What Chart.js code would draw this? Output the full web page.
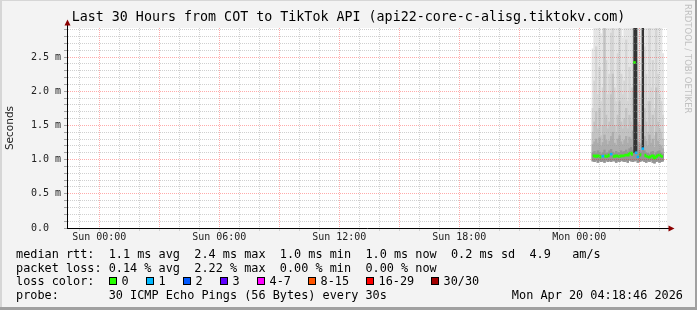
<!DOCTYPE html>
<html>
<head>
<meta charset="utf-8">
<title>Last 30 Hours from COT to TikTok API</title>
<script src="https://cdn.jsdelivr.net/npm/chart.js@4"></script>
<style>
    html, body { margin: 0; padding: 0; background: #f3f3f3; }
    #wrap { width: 697px; height: 310px; }
</style>
</head>
<body>
<div id="wrap"><canvas id="pingChart" width="697" height="310"></canvas></div>
<script>
// Time axis, in hours since Sat 00:00
const xMin = 46.385;   // Sat 22:23
const xMax = 76.385;   // Mon 04:23
const xTickHours = [48, 54, 60, 66, 72];
const xTickLabels = ['Sun 00:00', 'Sun 06:00', 'Sun 12:00', 'Sun 18:00', 'Mon 00:00'];

// Value axis, ms
const yMax = 2.924;
const yTickLabels = ['0.0', '0.5 m', '1.0 m', '1.5 m', '2.0 m', '2.5 m'];

// One sample every 5 minutes, first one at Mon 00:40
const firstSample = 72.677;
const sampleStep = 1 / 12;

// Ping smoke (ms), from the lowest ping up to the highest
const pingMin = [0.98, 0.97, 0.99, 0.96, 0.98, 0.97, 0.98, 0.96, 0.99, 0.97, 0.98, 0.97, 0.99, 0.98, 0.96,
    0.98, 0.97, 0.99, 0.98, 0.97, 0.98, 0.96, 0.99, 0.98, 0.97, 0.98, 0.99, 0.96, 0.97, 0.98,
    0.99, 0.97, 0.96, 0.98, 0.97, 0.99, 0.96, 0.95, 0.97, 0.98, 0.96, 0.97, 0.98];
const p55 = [1.10, 1.12, 1.09, 1.13, 1.11, 1.08, 1.10, 1.14, 1.09, 1.10, 1.13, 1.15, 1.11, 1.09, 1.12,
    1.10, 1.10, 1.13, 1.11, 1.12, 1.14, 1.11, 1.16, 1.18, 1.14, 1.25, 1.22, 1.10, 1.14, 1.11,
    1.24, 1.13, 1.10, 1.09, 1.08, 1.11, 1.12, 1.07, 1.10, 1.12, 1.13, 1.10, 1.08];
const p60 = [1.22, 1.26, 1.30, 1.24, 1.32, 1.20, 1.25, 1.36, 1.28, 1.22, 1.27, 1.34, 1.40, 1.24, 1.21,
    1.30, 1.35, 1.26, 1.22, 1.28, 1.34, 1.24, 1.33, 1.30, 1.42, 1.50, 1.45, 1.26, 1.24, 1.22,
    1.50, 1.34, 1.27, 1.20, 1.36, 1.24, 1.30, 1.18, 1.40, 1.27, 1.22, 1.20, 1.16];
const p75 = [1.40, 1.55, 1.70, 1.45, 1.75, 1.35, 1.50, 3.50, 1.65, 1.45, 1.55, 1.95, 2.25, 1.50, 1.40,
    1.65, 1.85, 1.55, 1.45, 1.60, 1.75, 1.45, 1.65, 1.55, 2.05, 2.20, 2.00, 1.55, 1.50, 1.45,
    2.10, 1.75, 1.55, 1.40, 1.85, 1.50, 1.65, 1.35, 2.05, 1.55, 1.45, 1.40, 1.30];
const p90 = [1.75, 2.15, 2.65, 1.95, 2.35, 1.85, 2.05, 3.50, 2.45, 1.95, 2.25, 2.85, 3.50, 2.05, 1.85,
    2.55, 3.50, 2.25, 1.95, 2.15, 2.75, 1.85, 2.35, 2.05, 3.50, 3.50, 3.50, 2.45, 2.15, 1.95,
    3.50, 2.65, 2.25, 1.85, 2.95, 2.05, 2.45, 1.75, 3.50, 2.25, 1.95, 1.85, 1.65];
const pingMax = [2.62, 3.50, 3.50, 3.50, 3.50, 2.84, 3.50, 3.50, 3.50, 3.50, 3.50, 3.50, 3.50, 3.50, 3.50,
    3.50, 3.50, 3.50, 2.78, 3.50, 3.50, 3.50, 3.50, 3.50, 3.50, 3.50, 3.50, 3.50, 3.50, 3.50,
    3.50, 3.50, 3.50, 3.50, 3.50, 3.50, 3.50, 3.50, 3.50, 3.50, 3.50, 2.95, 2.55];
// middle pings spread over the whole range (dark columns)
const coreLow = [null, null, null, null, null, null, null, null, null, null, null, null, null, null, null,
    null, null, null, null, null, null, null, null, null, null, 1.10, 1.12, null, null, null,
    1.17, null, null, null, null, null, null, null, null, null, null, null, null];
const coreHigh = [null, null, null, null, null, null, null, null, null, null, null, null, null, null, null,
    null, null, null, null, null, null, null, null, null, null, 3.50, 3.50, null, null, null,
    3.50, null, null, null, null, null, null, null, null, null, null, null, null];

// Median rtt (ms) and lost pings out of 30
const median = [1.05, 1.06, 1.04, 1.06, 1.05, 1.03, 1.05, 1.06, 1.04, 1.05, 1.07, 1.08, 1.05, 1.04, 1.06,
    1.05, 1.04, 1.06, 1.05, 1.06, 1.07, 1.06, 1.09, 1.10, 1.07, 2.42, 1.10, 1.04, 1.08, 1.06,
    1.16, 1.07, 1.05, 1.04, 1.03, 1.05, 1.06, 1.02, 1.04, 1.06, 1.07, 1.05, 1.04];
const loss = [0, 0, 0, 0, 0, 0, 1, 0, 0, 0, 0, 1, 0, 0, 0,
    0, 0, 0, 0, 0, 0, 0, 0, 0, 0, 0, 1, 1, 0, 0,
    1, 0, 0, 0, 0, 0, 0, 0, 0, 0, 0, 0, 0];

// Legend
const rttStats = ['1.1 ms avg', '2.4 ms max', '1.0 ms min', '1.0 ms now', '0.2 ms sd', '4.9   am/s'];
const lossStats = ['0.14 % avg', '2.22 % max', '0.00 % min', '0.00 % now'];
const lossBuckets = ['0', '1', '2', '3', '4-7', '8-15', '16-29', '30/30'];
const lossBucketMin = [0, 1, 2, 3, 4, 8, 16, 30];
const lossColors = ['#26ff00', '#00b8ff', '#0059ff', '#5e00ff', '#ff00ff', '#ff5500', '#ff0000', '#a10000'];
const probeText = '30 ICMP Echo Pings (56 Bytes) every 30s';
const stampText = 'Mon Apr 20 04:18:46 2026';

const GRID = 'rgba(150, 150, 150, 0.45)';
const MGRID = 'rgba(255, 0, 0, 0.33)';
const monoFont = '"DejaVu Sans Mono", "Liberation Mono", monospace';

function sampleTime(i) {
    return firstSample + i * sampleStep;
}

function lossColor(n) {
    let idx = 0;
    lossBucketMin.forEach((min, i) => { if (n >= min) idx = i; });
    return lossColors[idx];
}

function smokeLayer(lo, hi, color, order) {
    const data = [];
    hi.forEach((v, i) => {
        if (v != null && lo[i] != null) data.push({ x: sampleTime(i), y: [lo[i], v] });
    });
    return {
        type: 'bar',
        data: data,
        backgroundColor: color,
        borderWidth: 0,
        barPercentage: 1,
        categoryPercentage: 1,
        grouped: false,
        order: order
    };
}

// green median, only where nothing was lost
const greenMedian = median.map((v, i) => ({ x: sampleTime(i), y: loss[i] === 0 ? v : null }));

function jump(a, b) {
    return a == null || b == null || Math.abs(a - b) > 0.5;
}

function isolated(i) {
    const v = greenMedian[i].y;
    if (v == null) return false;
    const prev = i > 0 ? greenMedian[i - 1].y : null;
    const next = i < greenMedian.length - 1 ? greenMedian[i + 1].y : null;
    return jump(v, prev) && jump(v, next);
}

// Background, axis arrows and the text block under the graph
const rrdDecor = {
    id: 'rrdDecor',
    beforeDraw(chart) {
        const { ctx, chartArea: a } = chart;
        ctx.save();
        ctx.fillStyle = '#f3f3f3';
        ctx.fillRect(0, 0, chart.width, chart.height);
        ctx.fillStyle = '#ffffff';
        ctx.fillRect(a.left, a.top, a.right - a.left, a.bottom - a.top);
        ctx.restore();
    },
    afterDraw(chart) {
        const { ctx, chartArea: a } = chart;
        ctx.save();

        // axis ends + arrows
        ctx.strokeStyle = '#000';
        ctx.lineWidth = 1;
        ctx.beginPath();
        ctx.moveTo(a.left + 0.5, a.top);
        ctx.lineTo(a.left + 0.5, 24);
        ctx.moveTo(a.right, a.bottom + 0.5);
        ctx.lineTo(669, a.bottom + 0.5);
        ctx.stroke();
        ctx.fillStyle = '#8b0000';
        ctx.beginPath();
        ctx.moveTo(a.left + 0.5, 19.5);
        ctx.lineTo(a.left + 3.5, 25.5);
        ctx.lineTo(a.left - 2.5, 25.5);
        ctx.closePath();
        ctx.fill();
        ctx.beginPath();
        ctx.moveTo(674.5, a.bottom + 0.5);
        ctx.lineTo(668.5, a.bottom - 2.5);
        ctx.lineTo(668.5, a.bottom + 3.5);
        ctx.closePath();
        ctx.fill();

        // legend
        const rowY = [258, 272, 285, 299];
        ctx.font = '11.85px ' + monoFont;
        ctx.textBaseline = 'alphabetic';
        ctx.textAlign = 'left';
        ctx.fillStyle = '#000';
        const cw = ctx.measureText('0').width;
        const col = n => 16 + n * cw;

        ctx.fillText('median rtt:', 16, rowY[0]);
        ctx.fillText(rttStats.join('  '), col(13), rowY[0]);
        ctx.fillText('packet loss:', 16, rowY[1]);
        ctx.fillText(lossStats.join('  '), col(13), rowY[1]);
        ctx.fillText('loss color:', 16, rowY[2]);

        let bx = col(13);
        lossBuckets.forEach((label, i) => {
            const x = Math.round(bx);
            ctx.fillStyle = lossColors[i];
            ctx.fillRect(x, rowY[2] - 8, 8, 8);
            ctx.strokeStyle = '#000';
            ctx.strokeRect(x + 0.5, rowY[2] - 7.5, 7, 7);
            ctx.fillStyle = '#000';
            ctx.fillText(label, x + 12.5, rowY[2]);
            bx = x + 12.5 + ctx.measureText(label).width + 17;
        });

        ctx.fillText('probe:', 16, rowY[3]);
        ctx.fillText(probeText, col(13), rowY[3]);
        ctx.textAlign = 'right';
        ctx.fillText(stampText, 683, rowY[3]);

        // watermark
        ctx.save();
        ctx.translate(687.5, 4);
        ctx.rotate(Math.PI / 2);
        ctx.font = '8.5px "DejaVu Sans", sans-serif';
        ctx.fillStyle = '#c0c0c0';
        ctx.textAlign = 'left';
        ctx.textBaseline = 'middle';
        ctx.fillText('RRDTOOL / TOBI OETIKER', 0, 0);
        ctx.restore();

        // frame
        ctx.fillStyle = '#d6d6d6';
        ctx.fillRect(0, 0, chart.width, 1);
        ctx.fillRect(0, 0, 2, chart.height);
        ctx.fillStyle = '#a0a0a0';
        ctx.fillRect(0, chart.height - 3, chart.width, 3);
        ctx.fillRect(chart.width - 2, 0, 2, chart.height);

        ctx.restore();
    }
};

const chartData = {
    datasets: [
        {
            type: 'line',
            data: median.map((v, i) => ({ x: sampleTime(i), y: v, lost: loss[i] })).filter(p => p.lost > 0),
            showLine: false,
            pointStyle: 'rect',
            pointRadius: 1.8,
            pointBorderWidth: 0,
            pointBackgroundColor: ctx => lossColor(ctx.raw ? ctx.raw.lost : 0),
            order: 0
        },
        {
            type: 'line',
            data: greenMedian,
            borderColor: lossColors[0],
            borderWidth: 2,
            stepped: 'middle',
            spanGaps: false,
            pointStyle: 'rect',
            pointRadius: ctx => isolated(ctx.dataIndex) ? 1.8 : 0,
            pointBorderWidth: 0,
            pointBackgroundColor: lossColors[0],
            segment: {
                borderColor: ctx => jump(ctx.p0.parsed.y, ctx.p1.parsed.y) ? 'transparent' : undefined
            },
            order: 1
        },
        smokeLayer(coreLow, coreHigh, '#333333', 2),
        smokeLayer(pingMin, p55, '#959595', 3),
        smokeLayer(pingMin, p60, '#adadad', 4),
        smokeLayer(pingMin, p75, '#c3c3c3', 5),
        smokeLayer(pingMin, p90, '#d5d5d5', 6),
        smokeLayer(pingMin, pingMax, '#e5e5e5', 7)
    ]
};

const chartOptions = {
    responsive: false,
    devicePixelRatio: 1,
    animation: false,
    events: [],
    layout: { padding: 0 },
    plugins: {
        legend: { display: false },
        tooltip: { enabled: false },
        title: {
            display: true,
            text: 'Last 30 Hours from COT to TikTok API (api22-core-c-alisg.tiktokv.com)',
            color: '#000',
            font: { family: monoFont, size: 13.333, weight: 'normal', lineHeight: 1.2 },
            padding: { top: 10, bottom: 2 }
        }
    },
    scales: {
        x: {
            type: 'linear',
            min: xMin,
            max: xMax,
            offset: false,
            afterFit: s => { s.height = 82; },
            afterBuildTicks: s => {
                const ticks = [];
                for (let h = Math.ceil(xMin); h <= Math.floor(xMax); h++) ticks.push({ value: h });
                s.ticks = ticks;
            },
            ticks: {
                autoSkip: false,
                maxRotation: 0,
                padding: 0,
                color: '#222',
                font: { family: monoFont, size: 10 },
                callback: v => {
                    const idx = xTickHours.indexOf(Math.round(v));
                    return idx >= 0 ? xTickLabels[idx] : '';
                }
            },
            grid: {
                z: 1,
                offset: false,
                tickLength: 3,
                tickColor: 'rgba(150, 150, 150, 0.35)',
                color: ctx => (ctx.tick && Math.round(ctx.tick.value) % 3 === 0) ? MGRID : GRID
            },
            border: { color: '#000', dash: [1, 1], z: 2 }
        },
        y: {
            min: 0,
            max: yMax,
            afterFit: s => { s.width = 67; },
            afterBuildTicks: s => {
                const ticks = [];
                for (let k = 0; k / 10 < yMax; k++) ticks.push({ value: k / 10 });
                s.ticks = ticks;
            },
            ticks: {
                autoSkip: false,
                padding: 3,
                color: '#222',
                font: { family: monoFont, size: 10 },
                callback: v => {
                    const k = Math.round(v * 10);
                    return k % 5 === 0 ? yTickLabels[k / 5].padEnd(5) : '';
                }
            },
            grid: {
                z: 1,
                tickLength: 3,
                tickColor: 'rgba(110, 110, 110, 0.6)',
                color: ctx => {
                    if (!ctx.tick || ctx.tick.value === 0) return 'transparent';
                    return Math.round(ctx.tick.value * 10) % 5 === 0 ? MGRID : GRID;
                }
            },
            border: { color: '#000', dash: [1, 1], z: 2 },
            title: {
                display: true,
                text: 'Seconds',
                color: '#222',
                font: { family: '"DejaVu Sans", sans-serif', size: 10.5 },
                padding: { top: 4, bottom: 0 }
            }
        },
        yRight: {
            position: 'right',
            display: true,
            afterFit: s => { s.width = 30; },
            grid: { display: false, drawTicks: false },
            ticks: { display: false },
            border: { display: false }
        }
    }
};

document.addEventListener('DOMContentLoaded', function() {
    const ctx = document.getElementById('pingChart').getContext('2d');
    new Chart(ctx, {
        type: 'bar',
        data: chartData,
        options: chartOptions,
        plugins: [rrdDecor]
    });
});
</script>
</body>
</html>
